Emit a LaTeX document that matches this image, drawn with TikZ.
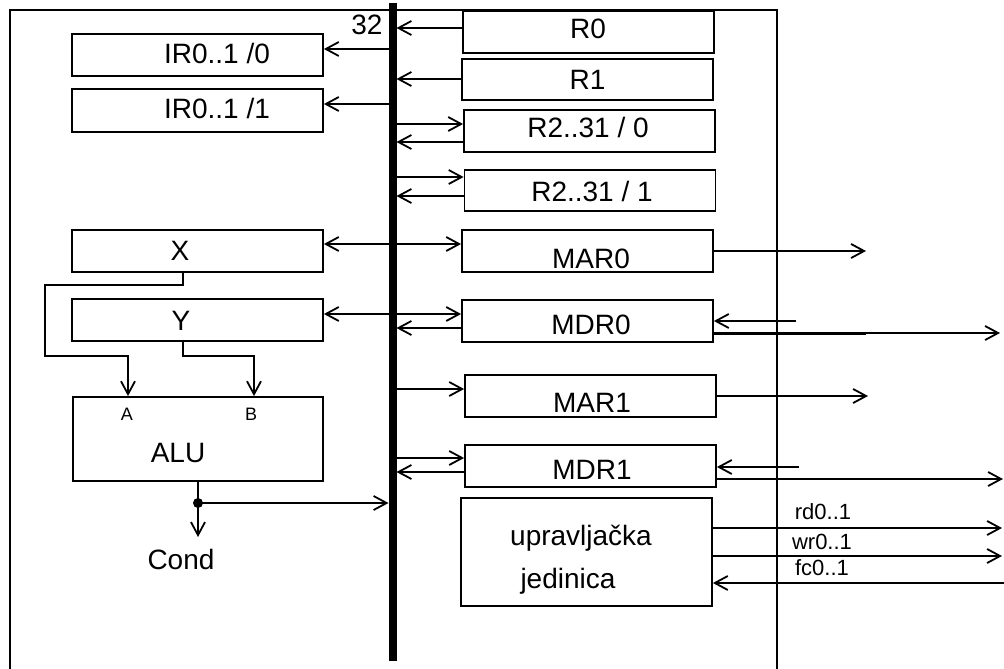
\documentclass[tikz,border=0pt]{standalone}
\usepackage{fontspec}
\setmainfont{Liberation Sans}
\usetikzlibrary{arrows.meta}
\begin{document}
\begin{tikzpicture}[x=1pt,y=-1pt,
  lw/.style={line width=1.8pt},
  box/.style={draw,line width=1.8pt,minimum width=251pt,minimum height=42pt,inner sep=0pt,font=\fontsize{28}{30}\selectfont},
  lab/.style={font=\fontsize{28}{30}\selectfont,inner sep=0pt},
  small/.style={font=\fontsize{18}{20}\selectfont,inner sep=0pt},
  sig/.style={font=\fontsize{22}{24}\selectfont,inner sep=0pt},
  arr/.style={line width=1.8pt,-{Straight Barb[length=13pt,width=14pt,line width=1.8pt]}}]
\useasboundingbox (0,0) rectangle (1004,669);
% outer frame
\draw[lw] (10,700) -- (10,10) -- (777,10) -- (777,700);
% bus coordinates
\coordinate (busT) at (392.5,3);
\coordinate (busB) at (392.5,661);
\coordinate (busL) at (388.5,0);
\coordinate (busR) at (396.5,0);
% right registers
\node[box] (R0) at (588.5,32) {};
\node[lab] at (588,29) {R0};
\node[box,minimum height=41pt] (R1) at (587.5,79.5) {R1};
\node[box] (R20) at (589.5,131) {};
\node[lab] at (588,127) {R2..31 / 0};
\node[box,minimum height=41pt] (R21) at (590,190.5) {};
\node[lab] at (592,191) {R2..31 / 1};
\node[box] (MAR0) at (587.5,251) {};
\node[lab] at (591,259) {MAR0};
\node[box] (MDR0) at (587.5,321) {};
\node[lab] at (591,325) {MDR0};
\node[box] (MAR1) at (590.5,396) {};
\node[lab] at (592,403) {MAR1};
\node[box] (MDR1) at (590.5,466) {};
\node[lab] at (592,470) {MDR1};
\node[box,minimum height=108pt] (CU) at (586.5,552) {};
\node[lab] at (581,538) {upravljačka};
\node[lab] at (568,581) {jedinica};
% left registers
\node[box] (IR0) at (197.5,55) {};
\node[lab] at (217,53) {IR0..1 /0};
\node[box,minimum height=43pt] (IR1) at (197.5,110.5) {};
\node[lab] at (217,108) {IR0..1 /1};
\node[box] (X) at (197.5,251) {};
\node[lab] at (180,251) {X};
\node[box] (Y) at (197.5,320) {};
\node[lab] at (181,321) {Y};
\node[box,minimum width=250pt,minimum height=84pt] (ALU) at (198,439) {};
\node[lab] at (178,453) {ALU};
\node[small] at (127,414) {A};
\node[small] at (251,414) {B};
\node[lab] (cond) at (181,559) {Cond};
\node[lab] at (367,25) {32};
% bus connections
\draw[arr] (R0.west |- 0,28) -- (busR |- 0,28);
\draw[arr] (busL |- 0,49) -- (IR0.east |- 0,49);
\draw[arr] (R1.west |- 0,79) -- (busR |- 0,79);
\draw[arr] (busL |- 0,104) -- (IR1.east |- 0,104);
\draw[arr] (busR |- 0,124) -- (R20.west |- 0,124);
\draw[arr] (R20.west |- 0,142) -- (busR |- 0,142);
\draw[arr] (busR |- 0,177) -- (R21.west |- 0,177);
\draw[arr] (R21.west |- 0,196) -- (busR |- 0,196);
\draw[arr] (busL |- 0,244) -- (X.east |- 0,244);
\draw[arr] (busR |- 0,244) -- (MAR0.west |- 0,244);
\draw[arr] (busL |- 0,314) -- (Y.east |- 0,314);
\draw[arr] (busR |- 0,314) -- (MDR0.west |- 0,314);
\draw[arr] (MDR0.west |- 0,328) -- (busR |- 0,328);
\draw[arr] (busR |- 0,389) -- (MAR1.west |- 0,389);
\draw[arr] (busR |- 0,458) -- (MDR1.west |- 0,458);
\draw[arr] (MDR1.west |- 0,472) -- (busR |- 0,472);
% X, Y to ALU
\draw[arr] (X.south -| 183,0) |- (45,285) |- (128,356) -- (ALU.north -| 128,0);
\draw[arr] (Y.south -| 183,0) |- (254,356) -- (ALU.north -| 254,0);
% ALU output
\coordinate (br) at (198,503);
\coordinate (condtip) at (198,537);
\draw[lw] (ALU.south) -- (br);
\draw[arr] (br) -- (condtip);
\draw[arr] (br) -- (busL |- br);
\fill (br) circle (5pt);
% bus
\draw[line width=8pt] (busT) -- (busB);
% external connections
\coordinate (m0out) at (866,251);
\coordinate (d0in) at (796,321);
\coordinate (d0out) at (1000,333);
\coordinate (m1out) at (868,396);
\coordinate (d1in) at (799,467);
\coordinate (d1out) at (1003,479);
\coordinate (rdout) at (1002,528);
\coordinate (wrout) at (1002,556);
\coordinate (fcin) at (1004,583);
\draw[arr] (MAR0.east) -- (m0out);
\draw[arr] (d0in) -- (MDR0.east |- d0in);
\draw[arr] (MDR0.east |- d0out) -- (d0out);
\draw[line width=3pt] (MDR0.east |- d0out) -- (866,333);
\draw[arr] (MAR1.east) -- (m1out);
\draw[arr] (d1in) -- (MDR1.east |- d1in);
\draw[arr] (MDR1.east |- d1out) -- (d1out);
\draw[arr] (CU.east |- rdout) -- (rdout);
\draw[arr] (CU.east |- wrout) -- (wrout);
\draw[arr] (fcin) -- (CU.east |- fcin);
\node[sig] at (823,512) {rd0..1};
\node[sig] at (822,542) {wr0..1};
\node[sig] at (822,568) {fc0..1};
\end{tikzpicture}
\end{document}
